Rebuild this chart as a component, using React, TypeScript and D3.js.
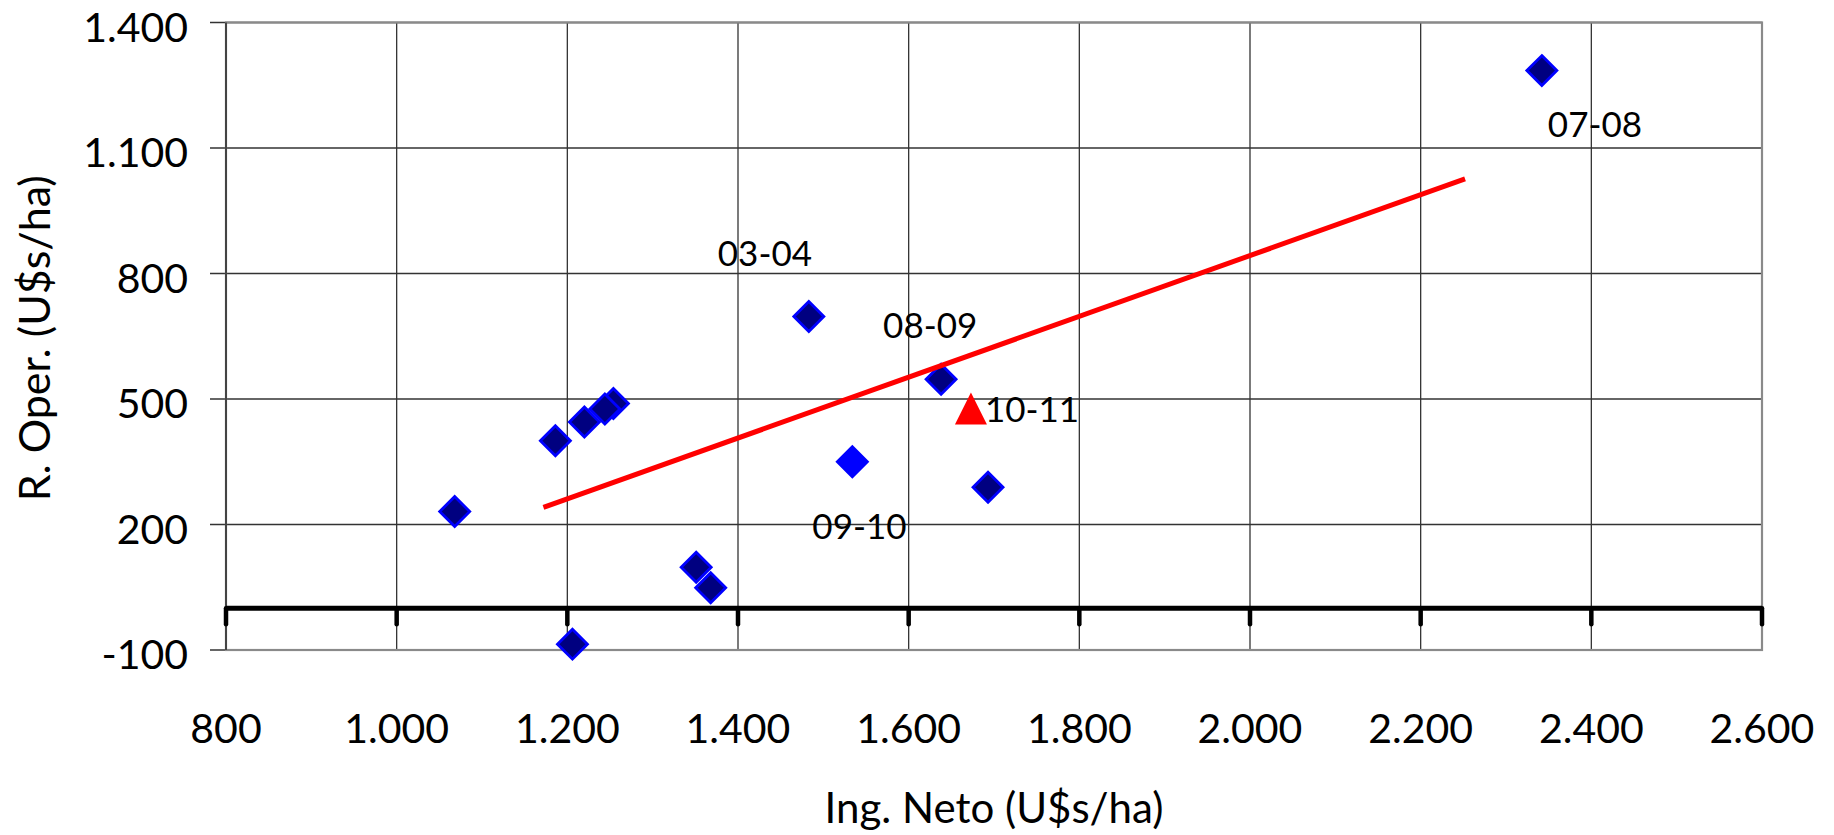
import React from "react";
import * as d3 from "d3";

// ---- Data ----
const xTicks = [800, 1000, 1200, 1400, 1600, 1800, 2000, 2200, 2400, 2600];
const yTicks = [-100, 200, 500, 800, 1100, 1400];

// Main series (navy diamonds), in drawing order
const mainX = [1068, 1186, 1220, 1254, 1244, 1351, 1368, 1206, 1483, 1638, 1693, 2342];
const mainY = [231, 400, 445, 489, 476, 98, 49, -86, 697, 547, 289, 1285];
const mainLabels = ["", "", "", "", "", "", "", "", "03-04", "08-09", "", "07-08"];

// 09-10 season (bright blue diamond)
const s0910X = [1534];
const s0910Y = [350];
const s0910Labels = ["09-10"];

// 10-11 season (red triangle)
const s1011X = [1673];
const s1011Y = [477];
const s1011Labels = ["10-11"];

// Linear trendline end points
const trendX = [1172, 2252];
const trendY = [241, 1026];

const xTitle = "Ing. Neto (U$s/ha)";
const yTitle = "R. Oper. (U$s/ha)";

// ---- Layout ----
const W = 1834;
const H = 835;
const L = 226, R = 1762, T = 22.5, B = 650;
const FONT = "Lato, 'Open Sans', sans-serif";

const labelOffsets: Record<string, [number, number]> = {
  "03-04": [-91, -51],
  "08-09": [-58, -41],
  "07-08": [6, 66],
  "09-10": [-40, 77],
  "10-11": [14, 13],
};

const locale = d3.formatLocale({ decimal: ",", thousands: ".", grouping: [3], currency: ["$", ""], minus: "-" });
const fmt = locale.format(",d");

export default function App() {
  const x = d3.scaleLinear().domain([800, 2600]).range([L, R]);
  const y = d3.scaleLinear().domain([-100, 1400]).range([B, T]);
  const r = 15;
  const diamond = `M0,${-r}L${r},0L0,${r}L${-r},0Z`;
  const tri = `M0,-16L16,16L-16,16Z`;
  const line = d3.line<number>().x((_, i) => x(trendX[i])).y((_, i) => y(trendY[i]));
  const y0 = y(0);

  const label = (t: string, px: number, py: number, key: string) => {
    if (!t) return null;
    const o = labelOffsets[t] || [0, 0];
    return (
      <text key={key} x={px + o[0]} y={py + o[1]} fontSize={35} fontFamily={FONT} fill="#000">
        {t}
      </text>
    );
  };

  return (
    <svg width={W} height={H} style={{ position: "absolute", left: 0, top: 0, background: "#fff" }}>
      <rect x={0} y={0} width={W} height={H} fill="#fff" />
      {/* grid */}
      {xTicks.map((t) => (
        <line key={"gx" + t} x1={x(t)} x2={x(t)} y1={T} y2={B} stroke="#333" strokeWidth={1.3} />
      ))}
      {yTicks.map((t) => (
        <line key={"gy" + t} x1={L - 16} x2={R} y1={y(t)} y2={y(t)} stroke="#333" strokeWidth={1.3} />
      ))}
      {/* plot border */}
      <rect x={L} y={T} width={R - L} height={B - T} fill="none" stroke="#8a8a8a" strokeWidth={2.2} />
      <line x1={L} x2={L} y1={T} y2={B} stroke="#444" strokeWidth={2} />
      {/* zero axis line with ticks */}
      <line x1={L} x2={R} y1={y0} y2={y0} stroke="#000" strokeWidth={5} />
      {xTicks.map((t) => (
        <line key={"tk" + t} x1={x(t)} x2={x(t)} y1={y0} y2={y0 + 16} stroke="#000" strokeWidth={4.5} strokeLinecap="round" />
      ))}
      {/* tick labels */}
      {yTicks.map((t) => (
        <text key={"yl" + t} x={188} y={y(t) + 19} textAnchor="end" fontSize={41} fontFamily={FONT} fill="#000">
          {fmt(t)}
        </text>
      ))}
      {xTicks.map((t) => (
        <text key={"xl" + t} x={x(t)} y={743} textAnchor="middle" fontSize={41} fontFamily={FONT} fill="#000">
          {fmt(t)}
        </text>
      ))}
      {/* axis titles */}
      <text x={(L + R) / 2} y={823} textAnchor="middle" fontSize={42} fontFamily={FONT} fill="#000">
        {xTitle}
      </text>
      <text
        transform={`translate(50,${(T + B) / 2 + 2}) rotate(-90)`}
        textAnchor="middle"
        fontSize={43}
        fontFamily={FONT}
        fill="#000"
      >
        {yTitle}
      </text>
      {/* points */}
      {mainX.map((v, i) => (
        <path key={"m" + i} d={diamond} transform={`translate(${x(v)},${y(mainY[i])})`} fill="#000080" stroke="#0000ff" strokeWidth={2.8} />
      ))}
      {s0910X.map((v, i) => (
        <path key={"b" + i} d={diamond} transform={`translate(${x(v)},${y(s0910Y[i])})`} fill="#0000ff" stroke="#0000ff" strokeWidth={2.8} />
      ))}
      {s1011X.map((v, i) => (
        <path key={"t" + i} d={tri} transform={`translate(${x(v)},${y(s1011Y[i])})`} fill="#ff0000" />
      ))}
      {/* trendline */}
      <path d={line(trendX) || ""} fill="none" stroke="#ff0000" strokeWidth={5} />
      {/* labels */}
      {mainX.map((v, i) => label(mainLabels[i], x(v), y(mainY[i]), "ml" + i))}
      {s0910X.map((v, i) => label(s0910Labels[i], x(v), y(s0910Y[i]), "bl" + i))}
      {s1011X.map((v, i) => label(s1011Labels[i], x(v), y(s1011Y[i]), "tl" + i))}
    </svg>
  );
}
